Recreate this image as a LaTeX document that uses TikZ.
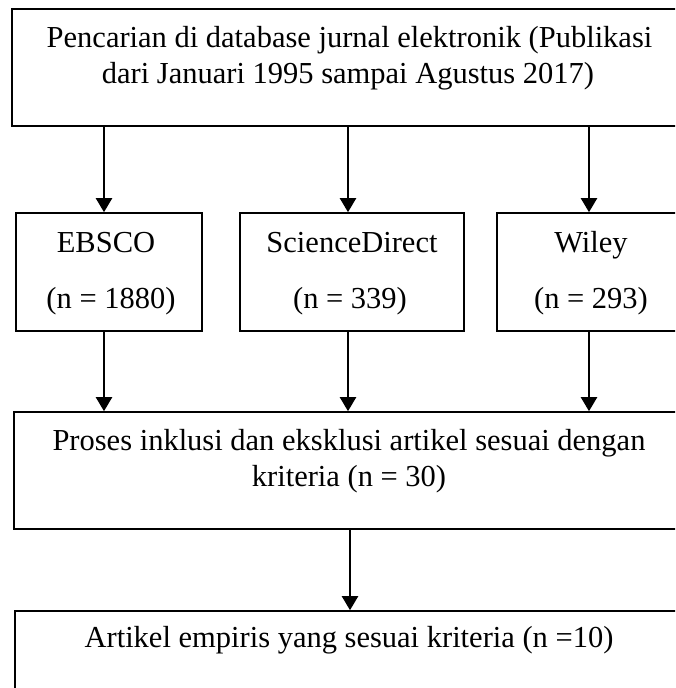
\documentclass[tikz,border=0pt]{standalone}
\usepackage{fontspec}
\setmainfont{Liberation Serif}
\usetikzlibrary{arrows.meta}
\begin{document}
\begin{tikzpicture}[x=1pt,y=-1pt,
  box/.style={draw, line width=1.6pt, rectangle, inner sep=0pt},
  lbl/.style={anchor=base, inner sep=0pt, font=\fontsize{30.5}{36}\selectfont},
  arr/.style={line width=2.2pt, -{Triangle[width=16pt,length=14pt]}}]
\useasboundingbox (0,0) rectangle (675,688);
\clip (0,0) rectangle (675,688);
% boxes
\node[box, minimum width=674pt, minimum height=117pt] (top) at (349,67.5) {};
\node[box, minimum width=186pt, minimum height=118pt] (ebsco) at (109,272) {};
\node[box, minimum width=224pt, minimum height=118pt] (sd) at (352,272) {};
\node[box, minimum width=188pt, minimum height=118pt] (wiley) at (591,272) {};
\node[box, minimum width=670pt, minimum height=117pt] (proc) at (349,470.5) {};
\node[box, minimum width=668pt, minimum height=117pt] (final) at (349,669.5) {};
% texts
\node[lbl] (t1) at (349.5,47) {Pencarian di database jurnal elektronik (Publikasi};
\node[lbl] (t2) at (348,83) {dari Januari 1995 sampai Agustus 2017)};
\node[lbl] (e1) at (106,252) {EBSCO};
\node[lbl] (e2) at (111,308) {(n = 1880)};
\node[lbl] (s1) at (352,252) {ScienceDirect};
\node[lbl] (s2) at (350,308) {(n = 339)};
\node[lbl] (w1) at (591,252) {Wiley};
\node[lbl] (w2) at (591,308) {(n = 293)};
\node[lbl] (p1) at (349,450) {Proses inklusi dan eksklusi artikel sesuai dengan};
\node[lbl] (p2) at (349,486) {kriteria (n = 30)};
\node[lbl] (f1) at (349,647) {Artikel empiris yang sesuai kriteria (n =10)};
% arrow columns
\coordinate (c1) at (104,0);
\coordinate (c2) at (348,0);
\coordinate (c3) at (589,0);
\coordinate (c4) at (350,0);
\draw[arr] (top.south -| c1) -- (ebsco.north -| c1);
\draw[arr] (top.south -| c2) -- (sd.north -| c2);
\draw[arr] (top.south -| c3) -- (wiley.north -| c3);
\draw[arr] (ebsco.south -| c1) -- (proc.north -| c1);
\draw[arr] (sd.south -| c2) -- (proc.north -| c2);
\draw[arr] (wiley.south -| c3) -- (proc.north -| c3);
\draw[arr] (proc.south -| c4) -- (final.north -| c4);
\end{tikzpicture}
\end{document}
